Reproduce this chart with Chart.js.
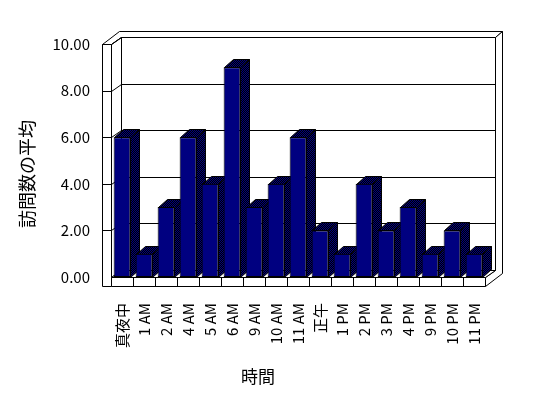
<!DOCTYPE html>
<html>
<head>
<meta charset="utf-8">
<script src="https://cdn.jsdelivr.net/npm/chart.js@4/dist/chart.umd.min.js"></script>
<style>
  html, body { margin: 0; padding: 0; background: #fff; }
  #chart { display: block; }
</style>
</head>
<body>
<canvas id="chart" width="548" height="398"></canvas>
<script>
// data
var hours = ['真夜中', '1 AM', '2 AM', '4 AM', '5 AM', '6 AM', '9 AM', '10 AM', '11 AM',
             '正午', '1 PM', '2 PM', '3 PM', '4 PM', '9 PM', '10 PM', '11 PM'];
var avgVisits = [6, 1, 3, 6, 4, 9, 3, 4, 6, 2, 1, 4, 2, 3, 1, 2, 1];
var yTicks = [0, 2, 4, 6, 8, 10];
var xTitle = '時間';
var yTitle = '訪問数の平均';

var font = '"Noto Sans CJK JP", "DejaVu Sans", sans-serif';
var navy = '#000080';

// dithered navy/black like the old 3d charts
function makePattern(ctx) {
    var c = document.createElement('canvas');
    c.width = 2; c.height = 2;
    var p = c.getContext('2d');
    p.fillStyle = '#000000'; p.fillRect(0, 0, 2, 2);
    p.fillStyle = navy; p.fillRect(0, 0, 1, 1); p.fillRect(1, 1, 1, 1);
    return ctx.createPattern(c, 'repeat');
}

var wall = { dx: 10, dy: -7, tx: 7, ty: -6, th: 9 };  // depth to back wall, back wall thickness, slab thickness
var depth = { dx: 9, dy: -8 };                        // bar depth

function poly(ctx, pts, fill) {
    ctx.beginPath();
    pts.forEach(function (p, i) {
        var px = Math.round(p[0]) + 0.5, py = Math.round(p[1]) + 0.5;
        if (i == 0) ctx.moveTo(px, py); else ctx.lineTo(px, py);
    });
    ctx.closePath();
    if (fill) { ctx.fillStyle = fill; ctx.fill(); }
    ctx.stroke();
}
function line(ctx, pts) {
    ctx.beginPath();
    pts.forEach(function (p, i) {
        var px = Math.round(p[0]) + 0.5, py = Math.round(p[1]) + 0.5;
        if (i == 0) ctx.moveTo(px, py); else ctx.lineTo(px, py);
    });
    ctx.stroke();
}

var box3d = {
    id: 'box3d',
    beforeDatasetsDraw: function (chart) {
        var ctx = chart.ctx, a = chart.chartArea;
        var L = a.left, R = a.right, T = a.top, B = a.bottom;
        var w = wall;
        ctx.save();
        ctx.lineWidth = 1;
        ctx.strokeStyle = '#000';

        // back wall, top edges, right side
        poly(ctx, [[L + w.dx, T + w.dy], [R + w.dx, T + w.dy], [R + w.dx, B + w.dy], [L + w.dx, B + w.dy]], '#fff');
        poly(ctx, [[L - w.th, T], [L, T], [L + w.dx, T + w.dy], [R + w.dx, T + w.dy],
                   [R + w.dx + w.tx, T + w.dy + w.ty], [L - w.th + w.dx + w.tx, T + w.dy + w.ty]], '#fff');
        poly(ctx, [[R, B], [R + w.dx, B + w.dy], [R + w.dx, T + w.dy], [R + w.dx + w.tx, T + w.dy + w.ty],
                   [R + w.dx + w.tx, B + w.th + w.dy + w.ty], [R, B + w.th]], '#fff');
        // left wall
        poly(ctx, [[L, T], [L + w.dx, T + w.dy], [L + w.dx, B + w.dy], [L, B]], '#fff');
        poly(ctx, [[L - w.th, T], [L, T], [L, B + w.th], [L - w.th, B + w.th]], '#fff');
        // floor
        poly(ctx, [[L, B], [R, B], [R + w.dx, B + w.dy], [L + w.dx, B + w.dy]], '#fff');
        poly(ctx, [[L, B], [R, B], [R, B + w.th], [L, B + w.th]], '#fff');

        // category ticks on the floor edge
        var xs = chart.scales.x;
        for (var i = 1; i < hours.length; i++) {
            var bx = (xs.getPixelForTick(i - 1) + xs.getPixelForTick(i)) / 2;
            line(ctx, [[bx, B], [bx, B + w.th]]);
        }
        // value grid on the walls
        var ys = chart.scales.y;
        yTicks.forEach(function (v) {
            if (v == 0) return;
            var py = ys.getPixelForValue(v);
            line(ctx, [[L - w.th, py], [L, py], [L + w.dx, py + w.dy], [R + w.dx, py + w.dy]]);
        });

        // bar tops and sides (fronts are drawn by chart.js)
        var pat = makePattern(ctx);
        chart.getDatasetMeta(0).data.forEach(function (bar) {
            var p = bar.getProps(['x', 'y', 'base', 'width'], true);
            var l = p.x - p.width / 2, r = p.x + p.width / 2;
            var d = depth;
            poly(ctx, [[r, p.y], [r + d.dx, p.y + d.dy], [r + d.dx, p.base + d.dy], [r, p.base]], pat);
            poly(ctx, [[l, p.y], [l + d.dx, p.y + d.dy], [r + d.dx, p.y + d.dy], [r, p.y]], pat);
        });
        ctx.restore();
    },
    afterDraw: function (chart) {
        var ctx = chart.ctx;
        ctx.save();
        ctx.fillStyle = '#000';
        ctx.textAlign = 'center';
        ctx.textBaseline = 'middle';
        ctx.font = '17px ' + font;
        ctx.fillText(xTitle, 258, 377);
        ctx.translate(27, 174);
        ctx.rotate(-Math.PI / 2);
        ctx.font = '18px ' + font;
        ctx.fillText(yTitle, 0, 0);
        ctx.restore();
    }
};

var ctx = document.getElementById('chart').getContext('2d');
var chart = new Chart(ctx, {
    type: 'bar',
    data: {
        labels: hours,
        datasets: [{
            label: yTitle,
            data: avgVisits,
            backgroundColor: navy,
            borderColor: '#000',
            borderWidth: 1,
            borderSkipped: false,
            barPercentage: 0.76,
            categoryPercentage: 1
        }]
    },
    options: {
        responsive: false,
        animation: false,
        devicePixelRatio: 1,
        layout: { padding: { left: 0, right: 63, top: 44, bottom: 0 } },
        plugins: { legend: { display: false }, tooltip: { enabled: false } },
        scales: {
            x: {
                grid: { display: false },
                border: { display: false },
                ticks: {
                    autoSkip: false, maxRotation: 90, minRotation: 90, padding: 18,
                    color: '#000', font: { family: font, size: 15 }
                },
                afterFit: function (s) { s.height = 121; }
            },
            y: {
                min: 0, max: 10,
                grid: { display: false },
                border: { display: false },
                ticks: {
                    stepSize: 2, padding: 13, color: '#000',
                    font: { family: font, size: 15 },
                    callback: function (v) { return v.toFixed(2); }
                },
                afterFit: function (s) { s.width = 111; }
            }
        }
    },
    plugins: [box3d]
});
</script>
</body>
</html>
